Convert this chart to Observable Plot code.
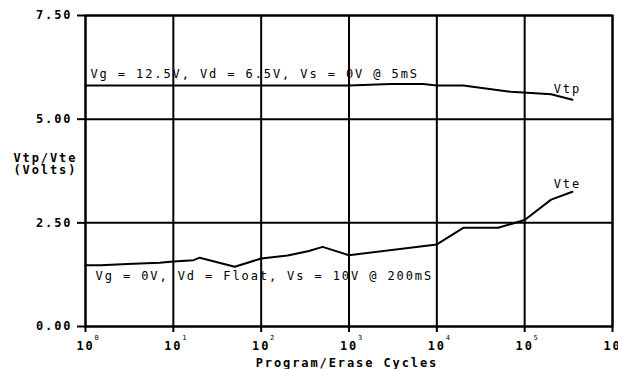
<!DOCTYPE html>
<html><head><meta charset="utf-8">
<script src="https://cdn.jsdelivr.net/npm/d3@7"></script>
<script src="https://cdn.jsdelivr.net/npm/@observablehq/plot@0.6"></script>
<style>
html,body{margin:0;padding:0;background:#fff;}
svg text{letter-spacing:1.9px;}
g[aria-label="y-axis tick label"] text, g[aria-label="x-axis tick label"] text{font-weight:bold;}
</style>
</head><body>
<div id="chart"></div>
<script>
// Vtp series (cycles, volts)
const vtpCycles = [1, 1000, 3000, 7000, 10000, 20000, 70000, 200000, 350000];
const vtpVolts  = [5.81, 5.81, 5.85, 5.85, 5.81, 5.81, 5.66, 5.60, 5.47];
// Vte series
const vteCycles = [1, 1.5, 3, 7, 10, 17, 20, 50, 100, 200, 350, 500, 1000, 10000, 20000, 50000, 100000, 200000, 350000];
const vteVolts  = [1.48, 1.48, 1.51, 1.54, 1.57, 1.60, 1.66, 1.44, 1.64, 1.71, 1.82, 1.92, 1.72, 1.98, 2.38, 2.38, 2.57, 3.06, 3.25];
// axes
const yTicks = [0, 2.5, 5, 7.5];
const xExponents = [0, 1, 2, 3, 4, 5, 6];
const yLabel = "Vtp/Vte\n(Volts)";
const xLabel = "Program/Erase Cycles";
// annotations
const notes = [
  {text: "Vg = 12.5V, Vd = 6.5V, Vs = 0V @ 5mS", x: 1.14, y: 6.0},
  {text: "Vg = 0V, Vd = Float, Vs = 10V @ 200mS", x: 1.3, y: 1.13}
];
const seriesLabels = [
  {text: "Vtp", x: 2.14e5, y: 5.62},
  {text: "Vte", x: 2.14e5, y: 3.35}
];

const vtp = vtpCycles.map((c, i) => ({c, v: vtpVolts[i]}));
const vte = vteCycles.map((c, i) => ({c, v: vteVolts[i]}));
const xTickVals = xExponents.map(e => Math.pow(10, e));

const chart = Plot.plot({
  width: 618,
  height: 369,
  marginLeft: 85,
  marginRight: 6,
  marginTop: 15,
  marginBottom: 43,
  style: {fontFamily: "DejaVu Sans Mono", fontSize: "12px", color: "#000", background: "#fff"},
  x: {type: "log", domain: [1, 1e6]},
  y: {domain: [0, 7.5]},
  marks: [
    Plot.gridX(xTickVals, {stroke: "#000", strokeOpacity: 1, strokeWidth: 2}),
    Plot.gridY(yTicks, {stroke: "#000", strokeOpacity: 1, strokeWidth: 2}),
    Plot.frame({stroke: "#000", strokeWidth: 2}),
    Plot.axisY(yTicks, {tickFormat: d3.format(".2f"), tickSize: 8, tickPadding: 5, label: null, strokeWidth: 2, fontWeight: "bold"}),
    Plot.axisX(xTickVals, {tickFormat: () => "10", tickSize: 6, tickPadding: 9, label: null, strokeWidth: 2, fontWeight: "bold"}),
    Plot.text(xExponents, {x: d => Math.pow(10, d), y: () => 0, text: d => String(d), dx: 12, dy: 13, fontSize: 7, lineAnchor: "bottom", clip: false}),
    Plot.line(vtp, {x: "c", y: "v", stroke: "#000", strokeWidth: 2}),
    Plot.line(vte, {x: "c", y: "v", stroke: "#000", strokeWidth: 2}),
    Plot.text(notes, {x: "x", y: "y", text: "text", textAnchor: "start", lineAnchor: "bottom", fontSize: 12}),
    Plot.text(seriesLabels, {x: "x", y: "y", text: "text", textAnchor: "start", lineAnchor: "bottom", fontSize: 12}),
    Plot.text([yLabel], {frameAnchor: "left", text: d => d, dx: -72, dy: -7, textAnchor: "start", lineAnchor: "middle", lineHeight: 1.05, fontWeight: "bold", fontSize: 12}),
    Plot.text([xLabel], {frameAnchor: "bottom", text: d => d, dx: -2, dy: 40, lineAnchor: "bottom", fontWeight: "bold", fontSize: 12})
  ]
});
document.getElementById("chart").appendChild(chart);
</script>
</body></html>
